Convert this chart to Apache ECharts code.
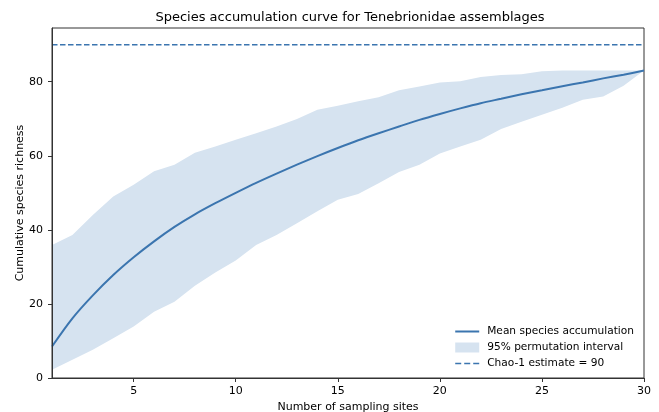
<!DOCTYPE html>
<html>
<head>
<meta charset="utf-8">
<script src="https://cdn.jsdelivr.net/npm/echarts@6/dist/echarts.min.js"></script>
<style>html,body{margin:0;padding:0;background:#fff}#c{width:659px;height:412px}</style>
</head>
<body>
<div id="c"></div>
<script>
var sites = [1,2,3,4,5,6,7,8,9,10,11,12,13,14,15,16,17,18,19,20,21,22,23,24,25,26,27,28,29,30];
var meanRich = [8.5,16.1,22.3,27.8,32.6,36.9,40.8,44.2,47.2,50.0,52.7,55.2,57.6,59.9,62.1,64.2,66.1,67.9,69.7,71.3,72.8,74.2,75.4,76.6,77.7,78.8,79.8,80.9,81.9,83.0];
var upperCI = [35.9,38.6,44.0,49.0,52.2,55.8,57.6,60.8,62.5,64.3,66.1,67.9,69.9,72.4,73.5,74.7,75.8,77.7,78.7,79.8,80.1,81.3,81.8,82.0,82.8,83.0,83.0,83.0,83.0,83.0];
var lowerCI = [2.2,4.9,7.6,10.7,13.9,17.9,20.6,24.9,28.5,31.7,35.9,38.6,41.8,45.0,48.1,49.7,52.6,55.6,57.6,60.6,62.5,64.3,67.2,69.2,71.1,73.0,75.1,76.0,78.9,83.0];
var chao1 = 90;
var xTicks = [5,10,15,20,25,30];
var yTicks = [0,20,40,60,80];

var font = 'DejaVu Sans';
var lineColor = '#3b75af';
var bandColor = '#d6e3f0';

var chart = echarts.init(document.getElementById('c'), null, {renderer:'canvas'});
var meanData = sites.map(function(s,i){return [s, meanRich[i]];});
var bandData = sites.map(function(s,i){return [s, lowerCI[i], upperCI[i]];});
var chaoData = [[sites[0], chao1],[sites[sites.length-1], chao1]];

chart.setOption({
  animation:false,
  title:{text:'Species accumulation curve for Tenebrionidae assemblages', left:345, textAlign:'center', top:6,
    textStyle:{fontFamily:font, fontSize:13, fontWeight:'normal', color:'#000'}},
  grid:{left:52, right:15, top:28, bottom:34, show:true, borderColor:'#333', borderWidth:1, backgroundColor:'transparent',
    containLabel:false, outerBoundsMode:'none'},
  legend:{orient:'vertical', right:25, bottom:43, padding:0, itemWidth:24, itemHeight:10, itemGap:5,
    textStyle:{fontFamily:font, fontSize:10.6, color:'#000', padding:[0,0,0,3]},
    data:[{name:'Mean species accumulation', icon:'path://M0,0L24,0L24,2L0,2Z'},
          {name:'95% permutation interval', icon:'rect'},
          {name:'Chao-1 estimate = 90', icon:'path://M0,0h6v1.6h-6zM9,0h6v1.6h-6zM18,0h6v1.6h-6z'}]},
  xAxis:{type:'value', min:1, max:30, z:10,
    name:'Number of sampling sites', nameLocation:'middle', nameGap:24, nameMoveOverlap:false,
    nameTextStyle:{fontFamily:font, fontSize:11, color:'#000'},
    axisLine:{show:true, lineStyle:{color:'#333'}},
    axisTick:{show:true, customValues:xTicks, length:4, lineStyle:{color:'#333'}},
    axisLabel:{customValues:xTicks, fontFamily:font, fontSize:11, color:'#000', margin:8},
    splitLine:{show:false}},
  yAxis:{type:'value', min:0, max:94.5, z:10,
    name:'Cumulative species richness', nameLocation:'middle', nameGap:26, nameMoveOverlap:false,
    nameTextStyle:{fontFamily:font, fontSize:11, color:'#000'},
    axisLine:{show:true, lineStyle:{color:'#333'}},
    axisTick:{show:true, customValues:yTicks, length:4, lineStyle:{color:'#333'}},
    axisLabel:{customValues:yTicks, fontFamily:font, fontSize:11, color:'#000', margin:9},
    splitLine:{show:false}},
  series:[
    {name:'95% permutation interval', type:'custom', data:bandData, z:1,
     itemStyle:{color:bandColor},
     encode:{x:0, y:[1,2]},
     renderItem:function(params, api){
       if (params.dataIndex !== 0) return null;
       var top = [], bot = [];
       for (var i=0;i<bandData.length;i++){
         top.push(api.coord([bandData[i][0], bandData[i][2]]));
         bot.push(api.coord([bandData[i][0], bandData[i][1]]));
       }
       var pts = top.concat(bot.reverse());
       return {type:'polygon', shape:{points:pts}, style:{fill:bandColor, stroke:null}};
     }},
    {name:'Mean species accumulation', type:'line', data:meanData, showSymbol:false, symbol:'none', z:3, smooth:0.3,
     lineStyle:{color:lineColor, width:2}, itemStyle:{color:lineColor}},
    {name:'Chao-1 estimate = 90', type:'line', data:chaoData, showSymbol:false, symbol:'none', z:2,
     lineStyle:{color:lineColor, width:1.5, type:[5.5,2.5]}, itemStyle:{color:lineColor}}
  ]
});
</script>
</body>
</html>
